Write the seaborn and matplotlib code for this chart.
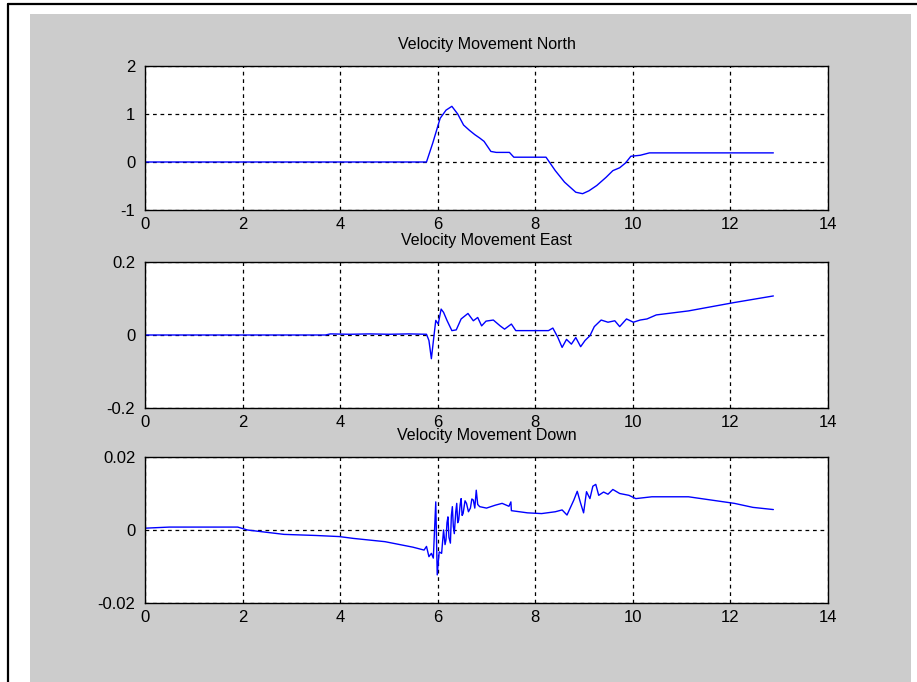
import matplotlib
matplotlib.use("Agg")
import matplotlib.pyplot as plt
import seaborn as sns
from matplotlib.patches import Rectangle
from matplotlib.lines import Line2D

# values
north_t = [0.0, 2.0, 4.0, 5.77, 5.9, 6.05, 6.17, 6.29, 6.41, 6.53, 6.65, 6.76, 6.86, 6.95,
           7.09, 7.2, 7.47, 7.56, 7.8, 8.22, 8.41, 8.6, 8.83, 8.97, 9.1, 9.26, 9.45,
           9.59, 9.73, 9.85, 9.96, 10.15, 10.34, 11.5, 12.88]
north_v = [0.0, 0.0, 0.0, 0.0, 0.4, 0.91, 1.08, 1.16, 1.0, 0.77, 0.66, 0.57, 0.5, 0.43,
           0.22, 0.2, 0.2, 0.1, 0.1, 0.1, -0.18, -0.42, -0.63, -0.66, -0.6, -0.49, -0.32,
           -0.18, -0.12, -0.02, 0.12, 0.14, 0.19, 0.19, 0.19]

east_t = [0.0, 2.0, 3.7, 3.8, 4.2, 4.6, 5.0, 5.4, 5.77, 5.82, 5.87, 5.92, 5.96, 6.01,
          6.07, 6.12, 6.19, 6.29, 6.38, 6.48, 6.62, 6.73, 6.82, 6.9, 6.99, 7.14, 7.28,
          7.37, 7.51, 7.6, 7.9, 8.27, 8.36, 8.46, 8.55, 8.64, 8.74, 8.83, 8.93, 9.02,
          9.12, 9.21, 9.35, 9.49, 9.63, 9.73, 9.87, 10.01, 10.15, 10.29, 10.48, 11.14,
          12.08, 12.88]
east_v = [0.0, 0.0, 0.0, 0.003, 0.002, 0.003, 0.002, 0.003, 0.002, -0.015, -0.065,
          -0.006, 0.04, 0.03, 0.071, 0.062, 0.04, 0.012, 0.014, 0.044, 0.059, 0.039,
          0.048, 0.025, 0.038, 0.041, 0.025, 0.016, 0.03, 0.012, 0.012, 0.012, 0.019,
          -0.006, -0.034, -0.012, -0.025, -0.007, -0.032, -0.015, -0.002, 0.023, 0.041,
          0.035, 0.039, 0.023, 0.044, 0.035, 0.041, 0.044, 0.055, 0.066, 0.089, 0.107]

down_t = [0.0, 0.5, 1.0, 1.9, 2.1, 2.85, 3.5, 3.98, 4.27, 4.92, 5.49, 5.72, 5.77, 5.82,
          5.87, 5.91, 5.96, 5.99, 6.03, 6.08, 6.12, 6.15, 6.17, 6.19, 6.21, 6.23, 6.26,
          6.28, 6.3, 6.32, 6.34, 6.37, 6.39, 6.41, 6.43, 6.46, 6.48, 6.5, 6.52, 6.56,
          6.59, 6.63, 6.67, 6.7, 6.73, 6.76, 6.79, 6.82, 6.86, 7.0, 7.18, 7.32, 7.46,
          7.5, 7.51, 7.84, 8.13, 8.41, 8.55, 8.65, 8.79, 8.86, 8.93, 8.99, 9.05, 9.12,
          9.18, 9.24, 9.3, 9.4, 9.49, 9.59, 9.73, 9.92, 10.06, 10.39, 11.14, 11.61,
          12.08, 12.46, 12.88]
down_v = [0.0005, 0.0008, 0.0008, 0.0008, 0.0, -0.0012, -0.0015, -0.0018, -0.0023,
          -0.0032, -0.0047, -0.0055, -0.0045, -0.0073, -0.0064, -0.0077, 0.0077,
          -0.0123, -0.006, -0.0064, 0.0, -0.004, -0.0027, 0.002, 0.0036, -0.002,
          -0.0036, 0.004, 0.0064, 0.001, -0.001, 0.005, 0.0073, 0.002, 0.0027, 0.007,
          0.0086, 0.004, 0.0045, 0.008, 0.0073, 0.005, 0.006, 0.0085, 0.0082, 0.006,
          0.0109, 0.007, 0.0064, 0.006, 0.0068, 0.0073, 0.0065, 0.0077, 0.0053, 0.0047,
          0.0045, 0.005, 0.0055, 0.0041, 0.0082, 0.0106, 0.0073, 0.0047, 0.0105,
          0.0086, 0.012, 0.0125, 0.0095, 0.0104, 0.0098, 0.0111, 0.01, 0.0095, 0.0086,
          0.0091, 0.0091, 0.0082, 0.0073, 0.0062, 0.0056]

titles = ["Velocity Movement North", "Velocity Movement East", "Velocity Movement Down"]
y_limits = [(-1, 2), (-0.2, 0.2), (-0.02, 0.02)]
y_ticks = [[-1, 0, 1, 2], [-0.2, 0, 0.2], [-0.02, 0, 0.02]]
y_labels = [["-1", "0", "1", "2"], ["-0.2", "0", "0.2"], ["-0.02", "0", "0.02"]]
x_ticks = [0, 2, 4, 6, 8, 10, 12, 14]

sns.set_style("white")
plt.rcParams["font.family"] = ["Liberation Sans", "DejaVu Sans"]
plt.rcParams["text.color"] = "black"

fig = plt.figure(figsize=(9.17, 6.82), dpi=100, facecolor="white")
W, H = 917, 682

# grey panel and frame lines like the original window
fig.patches.append(Rectangle((30 / W, 0), (911 - 30) / W, 1 - 14 / H,
                             transform=fig.transFigure, facecolor="#cccccc",
                             edgecolor="none", zorder=-10))
fig.lines.append(Line2D([8 / W, 8 / W], [0, 1 - 4 / H], transform=fig.transFigure,
                        color="black", linewidth=1.6))
fig.lines.append(Line2D([8 / W, 1], [1 - 4 / H, 1 - 4 / H], transform=fig.transFigure,
                        color="black", linewidth=1.6))

boxes = [(66, 210), (262, 408), (457, 603)]
data = [(north_t, north_v), (east_t, east_v), (down_t, down_v)]

for i in range(3):
    top, bot = boxes[i]
    ax = fig.add_axes([145 / W, 1 - bot / H, (828 - 145) / W, (bot - top) / H])
    ax.set_facecolor("white")
    t, v = data[i]
    sns.lineplot(x=t, y=v, ax=ax, color="#0000ff", linewidth=1.0,
                 sort=False, estimator=None)
    ax.set_xlim(0, 14)
    ax.set_ylim(*y_limits[i])
    ax.set_xticks(x_ticks)
    ax.set_xticklabels([str(x) for x in x_ticks])
    ax.set_yticks(y_ticks[i])
    ax.set_yticklabels(y_labels[i])
    ax.grid(True, color="black", linestyle=(0, (3, 3)), linewidth=0.9)
    for s in ax.spines.values():
        s.set_color("black")
        s.set_linewidth(1.0)
    ax.tick_params(direction="in", length=3, labelsize=12, colors="black")
    ax.tick_params(axis="x", pad=5)
    ax.tick_params(axis="y", pad=7)
    # titles sit on the tick labels of the panel above, as in the original
    ax.set_title(titles[i], fontsize=11.5, pad=12, color="black")

fig.savefig("out.png", dpi=100, facecolor="white")
